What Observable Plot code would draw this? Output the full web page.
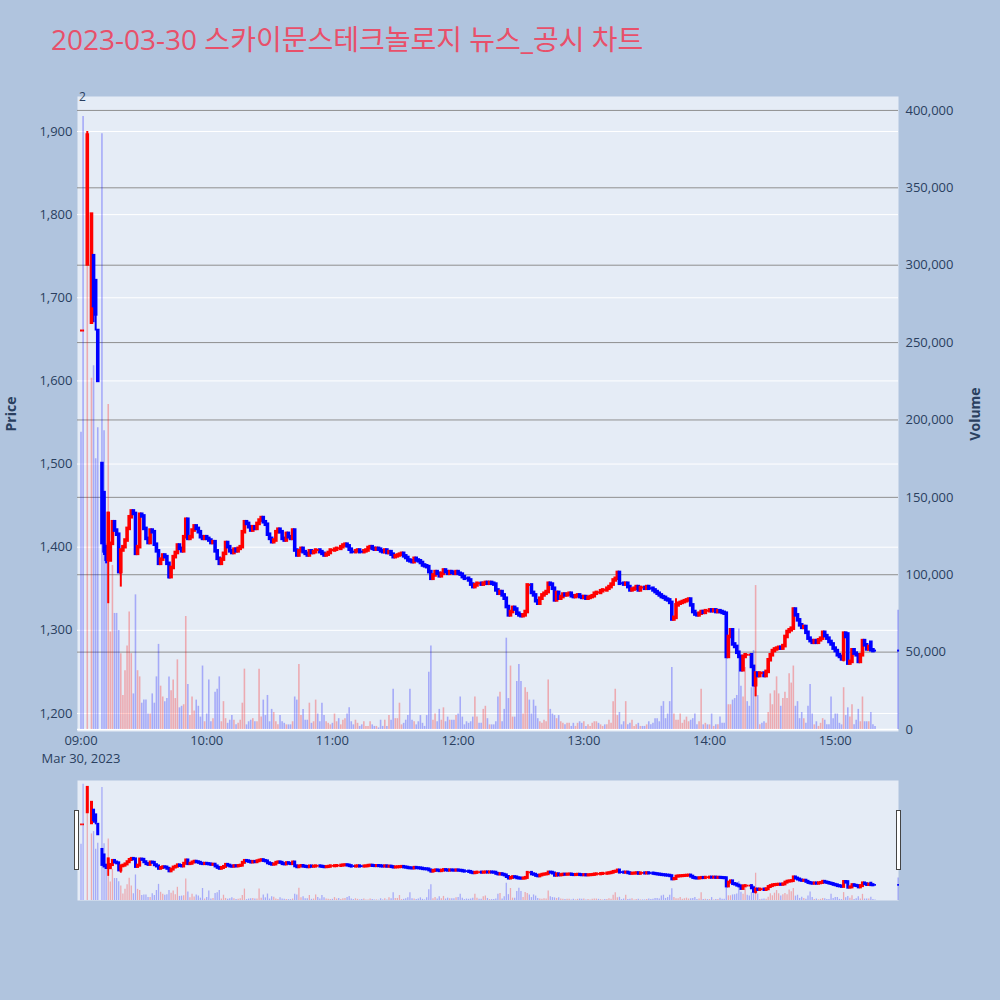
<!DOCTYPE html>
<html><head><meta charset="utf-8">
<script src="https://cdn.jsdelivr.net/npm/d3@7"></script>
<script src="https://cdn.jsdelivr.net/npm/@observablehq/plot@0.6"></script>
<style>
body{margin:0;background:#b0c4de;}
#wrap{position:relative;width:1000px;height:1000px;background:#b0c4de;font-family:"Open Sans","Noto Sans CJK KR",sans-serif;overflow:hidden;color:#2a3f5f}
#wrap svg{position:absolute;left:0;top:0}
.title{position:absolute;left:51px;top:21px;font-size:28px;line-height:36px;color:#e8506a;white-space:nowrap;font-family:"Open Sans","Noto Sans CJK KR",sans-serif}
.ylab{position:absolute;font-size:14px;font-weight:bold;color:#2a3f5f;transform:translate(-50%,-50%) rotate(-90deg);white-space:nowrap}
.note{position:absolute;font-size:12px;color:#2a3f5f}
.handle{position:absolute;background:#fff;border:1px solid #444;box-sizing:border-box}
</style></head>
<body><div id="wrap"></div>
<script>
// ---- data (minute index from 09:00; null = no trade) ----
const chartTitle = "2023-03-30 스카이문스테크놀로지 뉴스_공시 차트";
const dateLabel = "Mar 30, 2023";
const close0900 = [1660,1660,null,1895,null,1800,1690,1680,1600,null,
 1405,1395,1385,1440,1404,1430,1420,1415,1370,1396,
 1400,1408,1422,1436,1443,1440,1392,1400,1439,1437,
 1422,1410,1405,1420,1418,1403,1395,1380,1385,1390,
 1388,1380,1364,1375,1388,1393,1402,1398,1395,1412,
 1433,1410,1412,1420,1425,1422,1418,1412,1410,1412];
const close1000 = [1410,1408,1405,1406,1395,1386,1380,1385,1392,1405,
 1400,1395,1393,1397,1395,1398,1400,1418,1430,1428,
 1424,1420,1424,1422,1428,1432,1435,1430,1427,1415,
 1410,1406,1408,1418,1421,1418,1410,1408,1416,1412,
 1410,1420,1396,1390,1395,1398,1394,1392,1390,1395,
 1393,1394,1396,1396,1394,1392,1390,1391,1393,1396];
const close1100 = [1396,1397,1398,1398,1400,1402,1403,1401,1397,1394,
 1394,1395,1396,1394,1394,1395,1396,1399,1400,1398,
 1397,1398,1397,1395,1394,1396,1393,1394,1391,1388,
 1389,1390,1391,1392,1389,1387,1384,1383,1382,1386,
 1384,1383,1381,1378,1377,1376,1370,1362,1366,1370,
 1368,1365,1368,1372,1370,1368,1370,1369,1368,1370];
const close1200 = [1368,1367,1364,1362,1362,1360,1355,1352,1354,1356,
 1356,1355,1356,1357,1356,1357,1356,1355,1348,1344,
 1346,1342,1338,1328,1318,1322,1327,1325,1320,1318,
 1317,1318,1322,1354,1354,1345,1342,1335,1332,1338,
 1342,1344,1346,1356,1355,1350,1336,1345,1338,1340,
 1343,1342,1343,1344,1341,1340,1341,1342,1340,1339];
const close1300 = [1340,1338,1339,1340,1341,1344,1345,1345,1347,1348,
 1348,1350,1352,1355,1360,1362,1369,1356,1356,1355,
 1356,1352,1348,1349,1350,1352,1348,1351,1351,1350,
 1352,1350,1350,1348,1346,1344,1342,1340,1339,1337,
 1336,1333,1313,1315,1330,1332,1333,1334,1335,1336,
 1337,1330,1322,1319,1318,1320,1322,1321,1323,1323];
const close1400 = [1324,1323,1324,1322,1323,1322,1321,1320,1268,1292,
 1300,1283,1280,1273,1268,1252,1268,1270,1270,1270,
 1256,1234,1248,1245,1248,1248,1245,1250,1264,1270,
 1275,1277,1278,1279,1278,1281,1292,1298,1300,1302,
 1325,1318,1312,1306,1303,1304,1297,1290,1287,1285,
 1287,1285,1288,1290,1297,1293,1290,1286,1283,1278];
const close1500 = [1275,1270,1268,1265,1296,1292,1260,1262,1276,1272,
 1270,1262,1270,1287,1282,1277,1280,1276,1275,1275];
// volume in thousands of shares
const vol0900 = [192,396,0,300,0,227,235,175,195,0,
 385,193,120,210,63,106,75,75,64,49,
 22,38,54,76,49,23,87,38,34,17,
 19,19,10,10,23,17,34,55,28,21,
 18,20,34,25,32,20,45,14,15,16,
 73,29,9,21,12,19,15,8,41,5];
const vol1000 = [10,32,5,7,24,26,34,5,18,7,
 4,6,9,6,3,4,6,17,39,3,
 5,6,7,5,5,39,8,19,9,22,
 5,13,11,5,3,9,5,4,3,3,
 3,5,21,19,42,9,13,6,6,17,
 4,5,19,10,5,17,9,5,4,3];
const vol1100 = [4,10,5,7,3,6,7,10,14,5,
 3,6,4,2,3,5,2,2,5,3,
 2,2,1,6,2,6,2,9,6,26,
 7,7,17,3,4,6,9,26,6,5,
 3,5,9,4,2,9,37,54,6,10,
 5,13,6,14,5,8,6,6,6,9];
const vol1200 = [10,21,8,3,5,4,5,8,21,8,
 4,4,13,15,7,3,3,3,5,21,
 24,5,13,59,20,41,8,8,31,42,
 31,10,27,24,19,10,19,15,7,5,
 4,6,5,32,13,10,9,7,9,5,
 4,3,4,4,2,4,2,4,5,4];
const vol1300 = [5,2,3,2,4,5,5,4,3,2,
 3,3,6,4,18,26,9,11,3,5,
 18,3,4,6,2,3,4,2,2,2,
 3,5,3,4,7,7,5,15,18,7,
 10,18,40,10,6,6,10,4,6,8,
 5,6,7,10,3,5,26,3,4,3];
const vol1400 = [3,10,2,3,3,8,4,4,47,16,
 16,19,20,22,65,28,21,40,18,15,
 27,51,93,22,3,4,5,4,11,23,
 16,25,34,23,15,20,24,20,36,30,
 41,15,18,7,11,7,4,15,29,10,
 3,5,2,4,7,6,3,3,21,7];
const vol1500 = [10,10,4,3,27,9,14,8,16,3,
 6,13,5,21,5,5,5,11,3,2];
// closing auction at 15:30
const auctionMinute = 390, auctionClose = 1275, auctionVol = 77;
// explicit opens / wicks: [minute, value]
const openFix = [[0,1660],[1,1660],[3,1740],[5,1670],[6,1750],[7,1720],[8,1660],[10,1500],[11,1465],[12,1400],[13,1385],[14,1384],[18,1415],[19,1370],[26,1440],[366,1295],[377,1285],[390,1275]];
const highFix = [[3,1900],[13,1442],[284,1338]];
const lowFix = [[6,1670],[7,1660],[11,1390],[12,1380],[13,1332],[19,1352],[42,1362],[322,1220],[364,1262]];
const priceTicks = [1200,1300,1400,1500,1600,1700,1800,1900];
const volTicks = [0,50,100,150,200,250,300,350,400];
const hourTicks = [9,10,11,12,13,14,15];

// ---- build rows ----
const closes = [...close0900,...close1000,...close1100,...close1200,...close1300,...close1400,...close1500];
const vols = [...vol0900,...vol1000,...vol1100,...vol1200,...vol1300,...vol1400,...vol1500];
const t = m => new Date(Date.UTC(2023, 2, 30, 9, m));
const oMap = new Map(openFix), hMap = new Map(highFix), lMap = new Map(lowFix);
const rows = [];
let prev = null, prevDir = 1;
const push = (m, c, v) => {
  const o = oMap.has(m) ? oMap.get(m) : (prev ?? c);
  const h = hMap.has(m) ? hMap.get(m) : Math.max(o, c);
  const l = lMap.has(m) ? lMap.get(m) : Math.min(o, c);
  let dir = c > o ? 1 : c < o ? -1 : (prev == null ? 1 : c > prev ? 1 : c < prev ? -1 : prevDir);
  rows.push({t: t(m), o, h, l, c, v, dir, vdir: c > o ? 1 : -1, doji: o === c});
  prev = c; prevDir = dir;
};
closes.forEach((c, m) => { if (c != null) push(m, c, vols[m]); });
push(auctionMinute, auctionClose, auctionVol);
const volRows = rows.filter(d => d.v > 0);

const RED = "#ff0000", BLUE = "#0000ff";
const xDomain = [new Date(+t(0) - 1.67*60000), new Date(+t(0) + 390.2*60000)];
const priceDomain = [1178.3, 1942.1];
const volDomain = [0, 409];
const baseStyle = "background:transparent;position:absolute;left:0;top:0;overflow:visible;font-family:'Open Sans','Noto Sans',sans-serif;font-size:13px;color:#2a3f5f";
const common = {width: 1000, marginLeft: 77, marginRight: 102, style: baseStyle};
const wrap = document.getElementById("wrap");

// layer 1: background, price grid, left + bottom axes
wrap.append(Plot.plot({...common, height: 770, marginTop: 96, marginBottom: 39,
  x: {type: "utc", domain: xDomain, range: [77, 898]},
  y: {domain: priceDomain, range: [731, 96]},
  marks: [
    Plot.frame({fill: "#e5ecf6", stroke: null}),
    Plot.ruleY(priceTicks, {stroke: "#ffffff", strokeWidth: 1}),
    Plot.axisY({ticks: priceTicks, tickFormat: d3.format(","), tickSize: 0, tickPadding: 5, label: null}),
    Plot.axisX({ticks: hourTicks.map(h => t((h - 9) * 60)), tickSize: 0, tickPadding: 4, label: null,
      tickFormat: d => String(d.getUTCHours()).padStart(2, "0") + ":00"}),
    Plot.text([dateLabel], {x: () => t(0), frameAnchor: "bottom", dy: 31, text: d => d, fill: "currentColor"})
  ]}));

// layer 2: volume grid, bars, right axis
wrap.append(Plot.plot({...common, height: 770, marginTop: 96, marginBottom: 39,
  x: {type: "utc", domain: xDomain, range: [77, 898], axis: null},
  y: {domain: volDomain, range: [729, 96]},
  marks: [
    Plot.ruleY(volTicks.filter(d => d > 0), {stroke: "#8f8f8f", strokeWidth: 1}),
    Plot.ruleY([0], {stroke: "#ffffff", strokeWidth: 1.5}),
    Plot.ruleX(volRows, {x: "t", y1: 0, y2: "v", stroke: d => d.vdir > 0 ? RED : BLUE, strokeOpacity: 0.28, strokeWidth: 1.6}),
    Plot.axisY({anchor: "right", ticks: volTicks, tickFormat: d => d3.format(",")(d * 1000), tickSize: 0, tickPadding: 7, label: null})
  ]}));

// layer 3: candles
const candleMarks = (body, wick) => [
  Plot.ruleX(rows, {x: "t", y1: "l", y2: "h", stroke: d => d.dir > 0 ? RED : BLUE, strokeWidth: wick}),
  Plot.ruleX(rows.filter(d => !d.doji), {x: "t", y1: "o", y2: "c", stroke: d => d.dir > 0 ? RED : BLUE, strokeWidth: body, strokeLinecap: "square"}),
  Plot.ruleX(rows.filter(d => d.doji), {x: "t", y1: "o", y2: "c", stroke: d => d.dir > 0 ? RED : BLUE, strokeWidth: wick, strokeLinecap: "square"})
];
wrap.append(Plot.plot({...common, height: 770, marginTop: 96, marginBottom: 39,
  x: {type: "utc", domain: xDomain, range: [77, 898], axis: null},
  y: {domain: priceDomain, range: [731, 96], axis: null},
  marks: candleMarks(3.6, 2)}));

// range slider: volume then candles
wrap.append(Plot.plot({...common, height: 910, marginTop: 780, marginBottom: 10,
  x: {type: "utc", domain: xDomain, range: [77, 898], axis: null},
  y: {domain: volDomain, range: [900, 780], axis: null},
  marks: [
    Plot.frame({fill: "#e5ecf6", stroke: null}),
    Plot.ruleX(volRows, {x: "t", y1: 0, y2: "v", stroke: d => d.vdir > 0 ? RED : BLUE, strokeOpacity: 0.28, strokeWidth: 1.3})
  ]}));
wrap.append(Plot.plot({...common, height: 910, marginTop: 780, marginBottom: 10,
  x: {type: "utc", domain: xDomain, range: [77, 898], axis: null},
  y: {domain: priceDomain, range: [900, 780], axis: null},
  marks: candleMarks(3, 1.8)}));

// texts and slider handles
const add = (cls, text, css) => { const e = document.createElement("div"); e.className = cls; if (text) e.textContent = text; Object.assign(e.style, css); wrap.append(e); };
add("title", chartTitle, {});
add("ylab", "Price", {left: "10px", top: "414px"});
add("ylab", "Volume", {left: "974px", top: "414px"});
add("note", "2", {left: "79px", top: "88px"});
add("handle", "", {left: "74px", top: "810px", width: "5px", height: "60px"});
add("handle", "", {left: "896px", top: "810px", width: "5px", height: "60px"});
</script></body></html>
